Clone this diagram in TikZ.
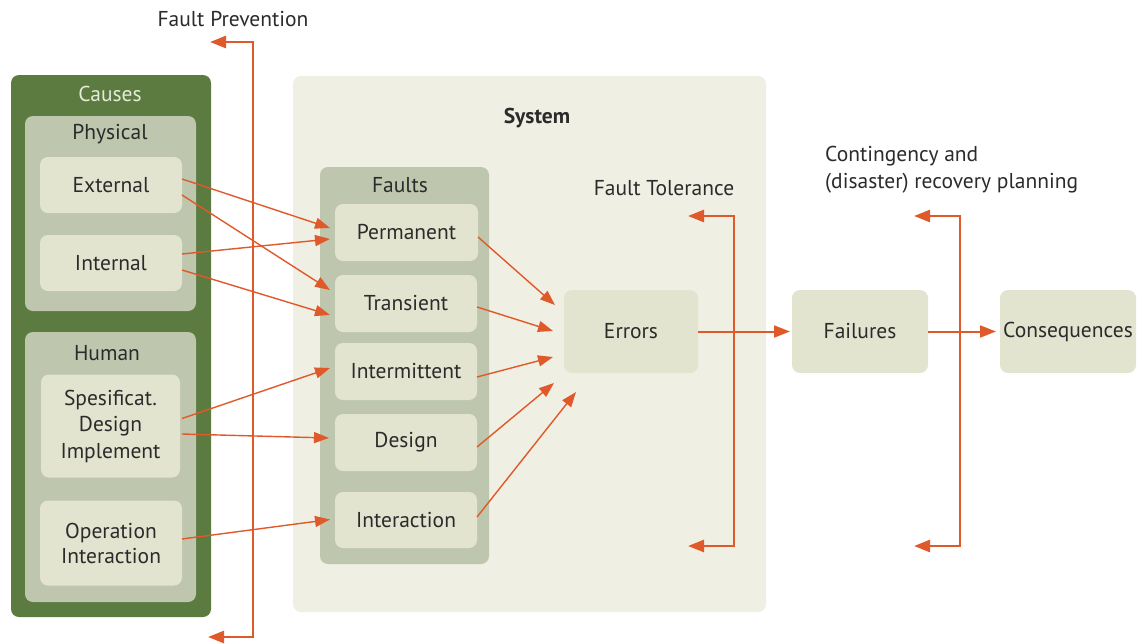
\documentclass[tikz,border=0pt]{standalone}
\usepackage{fontspec}
\setmainfont{PT Sans}
\usetikzlibrary{arrows.meta,calc}

\definecolor{causegreen}{HTML}{5B7B41}
\definecolor{groupgreen}{HTML}{BEC7AE}
\definecolor{itemfill}{HTML}{E2E4CF}
\definecolor{sysfill}{HTML}{EFEFE3}
\definecolor{linkorange}{HTML}{E0592A}
\definecolor{txt}{HTML}{2B2B2B}
\definecolor{lighttxt}{HTML}{E6EAD8}

\tikzset{
  panel/.style={rounded corners=8pt, inner sep=0pt, outer sep=0pt, draw=none},
  item/.style={panel, fill=itemfill, text=txt, align=center,
    font=\fontsize{21.5}{26.5}\selectfont},
  lbl/.style={text=txt, font=\fontsize{21.5}{26.5}\selectfont, inner sep=0pt},
  link/.style={draw=linkorange, line width=1.4pt, -{Triangle[length=15pt,width=11pt]}},
  flow/.style={draw=linkorange, line width=2pt, -{Triangle[length=16pt,width=12pt]}},
  bracket/.style={draw=linkorange, line width=2.6pt,
    {Triangle[length=16pt,width=12pt]}-{Triangle[length=16pt,width=12pt]}},
}

\begin{document}
\begin{tikzpicture}[x=1pt,y=-1pt]
\useasboundingbox (0,0) rectangle (1143,643);

% ---------- Causes ----------
\node[panel, fill=causegreen, minimum width=200pt, minimum height=542pt] (causes) at (111,346) {};
\node[lbl, text=lighttxt] (causesT) at (110,94) {Causes};

\node[panel, fill=groupgreen, minimum width=171pt, minimum height=195pt] (phys) at (110.5,213.5) {};
\node[lbl] (physT) at (110,134) {Physical};
\node[item, minimum width=142pt, minimum height=56pt] (ext) at (111,185) {External};
\node[item, minimum width=142pt, minimum height=56pt] (int) at (111,263) {Internal};

\node[panel, fill=groupgreen, minimum width=171pt, minimum height=270pt] (human) at (110.5,467) {};
\node[lbl] (humanT) at (107,353) {Human};
\node[item, minimum width=139pt, minimum height=103pt] (spec) at (110.5,426) {Spesificat.\\Design\\Implement};
\node[item, minimum width=142pt, minimum height=85pt, font=\fontsize{21.5}{25}\selectfont] (oper) at (111,543) {Operation\\Interaction};

% ---------- System ----------
\node[panel, fill=sysfill, minimum width=473pt, minimum height=536pt] (sys) at (529.5,344) {};
\node[lbl, font=\fontsize{21.5}{26.5}\selectfont\bfseries] (sysT) at (537,118) {System};

\node[panel, fill=groupgreen, minimum width=169pt, minimum height=397pt] (faults) at (404.5,365.5) {};
\node[lbl] (faultsT) at (400,185) {Faults};
\node[item, minimum width=143pt, minimum height=57pt] (perm) at (406.5,232.5) {Permanent};
\node[item, minimum width=142pt, minimum height=57pt] (trans) at (406,303.5) {Transient};
\node[item, minimum width=142pt, minimum height=57pt] (inter) at (406,371.5) {Intermittent};
\node[item, minimum width=142pt, minimum height=57pt] (design) at (406,442.5) {Design};
\node[item, minimum width=142pt, minimum height=56pt] (interact) at (406,520) {Interaction};

\node[item, minimum width=134pt, minimum height=83pt] (errors) at (631,331.5) {Errors};
\node[item, minimum width=136pt, minimum height=83pt] (fail) at (860,331.5) {Failures};
\node[item, minimum width=136pt, minimum height=83pt] (cons) at (1068,331.5) {Consequences};

% ---------- labels of the counter-measures ----------
\node[lbl] (fpT) at (233,19) {Fault Prevention};
\node[lbl] (ftT) at (664,188) {Fault Tolerance};
\node[lbl, anchor=north west, align=left, font=\fontsize{21.5}{27}\selectfont] (cpT) at (825,146)
  {Contingency and\\(disaster) recovery planning};

% ---------- causes -> faults ----------
\draw[link] ($(ext.east)+(0,-6)$)  -- ($(perm.west)+(-5,-4.5)$);
\draw[link] ($(ext.east)+(0,10)$)  -- ($(trans.west)+(-5,-13.5)$);
\draw[link] ($(int.east)+(0,-9)$)  -- ($(perm.west)+(-5,6.5)$);
\draw[link] ($(int.east)+(0,7)$)   -- ($(trans.west)+(-5,11.5)$);
\draw[link] ($(spec.east)+(2,-7.5)$) -- ($(inter.west)+(-5,-3.5)$);
\draw[link] ($(spec.east)+(2,8)$) -- ($(design.west)+(-6,-4.5)$);
\draw[link] ($(oper.east)+(0,-4)$) -- ($(interact.west)+(-5,-0.5)$);

% ---------- faults -> errors ----------
\draw[link] ($(perm.east)+(0,4.5)$)     -- ($(errors.west)+(-9,-26.5)$);
\draw[link] ($(trans.east)+(0,3.5)$)    -- ($(errors.west)+(-11,-0.5)$);
\draw[link] ($(inter.east)+(0,5.5)$)    -- ($(errors.west)+(-11,25.5)$);
\draw[link] ($(design.east)+(0,4.5)$)   -- ($(errors.west)+(-10,51.5)$);
\draw[link] ($(interact.east)+(0,-3)$)  -- ($(errors.south west)+(12,19)$);

% ---------- counter-measure brackets ----------
\coordinate (fpA) at (210,42);
\coordinate (fpB) at (208,637);
\draw[bracket] (fpA) -- (253,42) -- (253,637) -- (fpB);

\coordinate (ftA) at (688,216);
\coordinate (ftB) at (688,546);
\draw[bracket] (ftA) -- (734,216) -- (734,546) -- (ftB);

\coordinate (cpA) at (914,216);
\coordinate (cpB) at (914,546);
\draw[bracket] (cpA) -- (960,216) -- (960,546) -- (cpB);

% ---------- main chain ----------
\draw[flow] (errors.east) -- ($(fail.west)+(-2,0)$);
\draw[flow] (fail.east) -- ($(cons.west)+(-4,0)$);
\end{tikzpicture}
\end{document}
